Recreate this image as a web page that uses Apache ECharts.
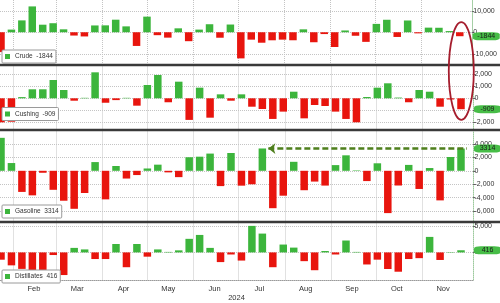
<!DOCTYPE html>
<html><head><meta charset="utf-8">
<script src="https://cdn.jsdelivr.net/npm/echarts@6/dist/echarts.min.js"></script>
<style>html,body{margin:0;padding:0;background:#fff}#c{width:500px;height:303px}</style>
</head><body><div id="c"></div>
<script>
// ---- data (weekly EIA inventory changes, thousand barrels) ----
const reportDates = ['2024-01-24','2024-01-31','2024-02-07','2024-02-14','2024-02-21','2024-02-28',
  '2024-03-06','2024-03-13','2024-03-20','2024-03-27','2024-04-03','2024-04-10','2024-04-17','2024-04-24',
  '2024-05-01','2024-05-08','2024-05-15','2024-05-22','2024-05-29','2024-06-05','2024-06-12','2024-06-19',
  '2024-06-26','2024-07-03','2024-07-10','2024-07-17','2024-07-24','2024-07-31','2024-08-07','2024-08-14',
  '2024-08-21','2024-08-28','2024-09-04','2024-09-11','2024-09-18','2024-09-25','2024-10-02','2024-10-09',
  '2024-10-16','2024-10-23','2024-10-30','2024-11-06','2024-11-13','2024-11-20','2024-11-27'];
const crude = [-9233, 1234, 5520, 12018, 3514, 4199, 1367, -1536, -1952, 3165, 3210, 5841, 2735, -6368,
  7265, -1362, -2508, 1825, -4156, 1233, 3730, -2547, 3591, -12157, -3443, -4870, -3741, -3436, -3728,
  1357, -4649, -846, -6873, 833, -1630, -4471, 3889, 5810, -2191, 5474, -515, 2149, 2089, 545, -1844];
const cushing = [-2000, -1950, 100, 750, 750, 1525, 690, -200, 40, 2165, -370, -150, 40, -615, 1110,
  1940, -330, 1385, -1800, 885, -1615, 330, -200, 330, -700, -890, -1720, -1110, 550, -1670, -560, -640,
  -1110, -1720, -2000, 110, 885, 1250, 60, -330, 690, 550, -700, -100, -909];
const gasoline = [4913, 1156, -3146, -3658, -293, -2832, -4460, -5662, -3310, 1299, -4256, 715, -1154,
  -634, 345, 915, -235, -944, 2022, 2102, 2566, -2280, 2654, -2214, -2006, 3328, -5572, -3709, 1340,
  -2894, -1606, -2203, 848, 2307, 69, -1531, 1119, -6304, -2192, 878, -2707, 412, -4407, 2054, 3314];
const distillates = [-1407, -2500, -3185, -4056, -4115, -506, -4375, 875, 580, -1280, -1280, 1630, -2860,
  1630, -820, 580, 100, 400, 2625, 3380, 875, -1870, -400, -1575, 5130, 3640, -2860, 1520, 930, -1690,
  -3440, 270, -400, 2300, 100, -2330, -1400, -3210, -3730, -1280, -1110, 3000, -1460, 70, 416];
const monthNames = ['Feb','Mar','Apr','May','Jun','Jul','Aug','Sep','Oct','Nov'];
const monthStarts = ['2024-02-01','2024-03-01','2024-04-01','2024-05-01','2024-06-01','2024-07-01',
  '2024-08-01','2024-09-01','2024-10-01','2024-11-01'];
const monthLabelDates = ['2024-02-15','2024-03-15','2024-04-15','2024-05-15','2024-06-15','2024-07-15',
  '2024-08-15','2024-09-15','2024-10-15','2024-11-15'];
const crudeTicks = [-10000, 0, 10000];
const cushingTicks = [-2000, -1000, 0, 1000, 2000];
const gasolineTicks = [-6000, -4000, -2000, 0, 2000, 4000];
const distillatesTicks = [0, 5000];
const yearLabel = '2024';

// ---- chart ----
const GREEN = '#3cb53c', RED = '#e8150e', PILL = '#47bd47';
const DAY = 86400000;
const ts = s => Date.parse(s + 'T00:00:00Z');
const xMin = ts(reportDates[0]) - 0.67 * DAY;
const xMax = ts(reportDates[reportDates.length - 1]) + 8.04 * DAY;
const FONT = 'Liberation Sans, Arial, sans-serif';

const panels = [
  {name: 'Crude', vals: crude, ticks: crudeTicks, top: 0, height: 64.5, min: -15000, max: 15000, legendTop: 50},
  {name: 'Cushing', vals: cushing, ticks: cushingTicks, top: 66.5, height: 62.5, min: -2558, max: 2650, legendTop: 107.5},
  {name: 'Gasoline', vals: gasoline, ticks: gasolineTicks, top: 131.5, height: 89.5, min: -7480, max: 5856, legendTop: 205},
  {name: 'Distillates', vals: distillates, ticks: distillatesTicks, top: 223.5, height: 63.5, min: -5332, max: 5590, legendTop: 270}
];
const lastVal = p => p.vals[p.vals.length - 1];
const gridLine = {show: true, lineStyle: {color: '#c4c4c4', type: 'dotted', width: 1}};

const option = {
  animation: false,
  backgroundColor: '#fff',
  textStyle: {fontFamily: FONT},
  grid: panels.map(p => ({left: 0, top: p.top, width: 473, height: p.height})),
  xAxis: panels.map((p, i) => ({
    type: 'value', gridIndex: i, min: xMin, max: xMax,
    axisLine: {show: i === 3, onZero: false, lineStyle: {color: '#9a9a9a', type: 'dotted'}},
    axisTick: {show: false, customValues: monthStarts.map(ts)},
    axisLabel: {show: i === 3, customValues: monthLabelDates.map(ts), fontSize: 7.5, color: '#333', margin: 5,
      formatter: v => monthNames[new Date(v).getUTCMonth() - 1] || ''},
    splitLine: gridLine,
    name: i === 3 ? yearLabel : '', nameLocation: 'middle', nameGap: 14,
    nameTextStyle: {fontSize: 7.5, color: '#333'}
  })),
  yAxis: panels.map((p, i) => ({
    type: 'value', gridIndex: i, position: 'right', min: p.min, max: p.max,
    axisLine: {show: true, lineStyle: {color: '#9cc99c', type: 'dotted'}},
    axisTick: {show: true, length: 2.5, customValues: p.ticks, lineStyle: {color: '#666'}},
    axisLabel: {customValues: p.ticks, fontSize: 7, color: '#333', margin: 1.5},
    splitLine: gridLine
  })),
  legend: panels.map(p => ({
    data: [{name: p.name, itemStyle: {color: GREEN}}],
    left: 2, top: p.legendTop, icon: 'rect', selectedMode: false,
    backgroundColor: '#fff', borderColor: '#9a9a9a', borderWidth: 1, borderRadius: 1,
    padding: [3, 3, 3, 3], itemWidth: 5, itemHeight: 5, itemGap: 2,
    textStyle: {fontSize: 6.5, color: '#333'},
    formatter: n => n + '  ' + lastVal(p)
  })),
  series: panels.map((p, i) => {
    const s = {
      type: 'bar', name: p.name, xAxisIndex: i, yAxisIndex: i, barWidth: 7.5,
      data: reportDates.map((d, k) => [ts(d), p.vals[k]]),
      itemStyle: {color: q => q.value[1] >= 0 ? GREEN : RED},
      markPoint: {
        silent: true, animation: false,
        symbol: 'roundRect', symbolSize: [27, 8], symbolOffset: [14.5, 0],
        itemStyle: {color: PILL},
        label: {show: true, position: 'inside', fontSize: 7, color: '#1a1a1a', formatter: String(lastVal(p))},
        data: [{coord: [xMax, lastVal(p)]}]
      }
    };
    if (p.name === 'Gasoline') {
      const srcIdx = 25;
      s.markLine = {
        silent: true, animation: false,
        symbol: ['arrow', 'none'], symbolSize: [8, 7],
        lineStyle: {color: '#4e7f1c', width: 2.5, type: [6, 3]},
        label: {show: false},
        data: [[{coord: [ts(reportDates[srcIdx]) + 4 * DAY, lastVal(p)]},
                {coord: [ts(reportDates[reportDates.length - 1]) + 4 * DAY, lastVal(p)]}]]
      };
    }
    return s;
  })
};

const chart = echarts.init(document.getElementById('c'), null, {renderer: 'canvas'});
chart.setOption(option);

// layout decorations: panel separators + highlight ellipse anchored to data
const lastT = ts(reportDates[reportDates.length - 1]);
const pTop = chart.convertToPixel({seriesIndex: 0}, [lastT, 4700]);
const pBot = chart.convertToPixel({seriesIndex: 1}, [lastT, -1800]);
const seps = [panels[0].top + panels[0].height + 0.5, panels[1].top + panels[1].height + 1, panels[2].top + panels[2].height + 1];
chart.setOption({
  graphic: seps.map((y, k) => ({
    type: 'line', id: 'sep' + k, shape: {x1: 0, y1: y, x2: 500, y2: y},
    style: {stroke: '#3a3a3a', lineWidth: 2.5}, z: 50
  })).concat([{
    type: 'ellipse', id: 'ell',
    shape: {cx: pTop[0] + 1.5, cy: (pTop[1] + pBot[1]) / 2, rx: 12.5, ry: (pBot[1] - pTop[1]) / 2},
    style: {fill: 'none', stroke: '#a51d2d', lineWidth: 1.8}, z: 100
  }])
});
</script></body></html>
